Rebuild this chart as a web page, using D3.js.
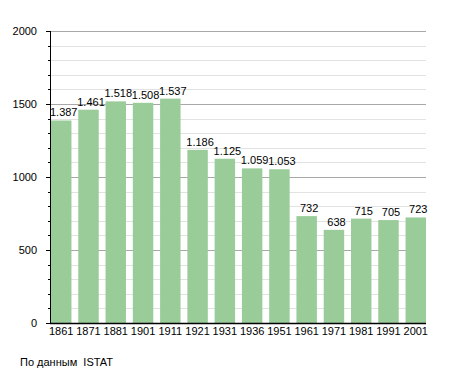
<!DOCTYPE html>
<html>
<head>
<meta charset="utf-8">
<script src="https://cdn.jsdelivr.net/npm/d3@7"></script>
<style>
  body { margin: 0; background: #fff; }
  svg text { font-family: "Liberation Sans", Arial, sans-serif; fill: #000; white-space: pre; }
</style>
</head>
<body>
<div id="chart"></div>
<script>
// census years and population
const years = ["1861", "1871", "1881", "1901", "1911", "1921", "1931", "1936", "1951", "1961", "1971", "1981", "1991", "2001"];
const population = [1387, 1461, 1518, 1508, 1537, 1186, 1125, 1059, 1053, 732, 638, 715, 705, 723];
const majorTicks = [0, 500, 1000, 1500, 2000];
const sourceNote = "По данным  ISTAT";

const width = 455, height = 373;
const plot = { left: 50, right: 426, top: 31, bottom: 323 };

const svg = d3.select("#chart").append("svg")
    .attr("width", width)
    .attr("height", height);

const y = d3.scaleLinear().domain([0, 2000]).range([plot.bottom, plot.top]);
const x = d3.scaleBand().domain(years).range([plot.left + 1, plot.right]).paddingInner(0.25).paddingOuter(0);
const yPx = d => Math.round(y(d)) + 0.5;

// minor grid every 100
const minor = d3.range(100, 2001, 100).filter(v => v % 500 !== 0);
svg.append("g").selectAll("line")
    .data(minor)
    .enter().append("line")
    .attr("x1", plot.left).attr("x2", plot.right)
    .attr("y1", yPx).attr("y2", yPx)
    .attr("stroke", "#e2e2e2");

// major grid
svg.append("g").selectAll("line")
    .data(majorTicks.filter(d => d > 0))
    .enter().append("line")
    .attr("x1", plot.left).attr("x2", plot.right)
    .attr("y1", yPx).attr("y2", yPx)
    .attr("stroke", "#a8a8a8");

// bars
svg.append("g").selectAll("rect")
    .data(population)
    .enter().append("rect")
    .attr("x", (d, i) => x(years[i]))
    .attr("y", d => y(d))
    .attr("width", x.bandwidth())
    .attr("height", d => y(0) - y(d))
    .attr("fill", "#99cc99");

// value labels
const fmt = v => d3.format(",")(v).replace(",", ".");
svg.append("g").selectAll("text")
    .data(population)
    .enter().append("text")
    .attr("x", (d, i) => x(years[i]) + x.bandwidth() / 2 + 2.5)
    .attr("y", d => y(d) - 4)
    .attr("text-anchor", "middle")
    .style("font-size", "11px")
    .text(d => fmt(d));

// y axis: minor + major ticks
svg.append("g").selectAll("line")
    .data(minor)
    .enter().append("line")
    .attr("x1", plot.left - 2).attr("x2", plot.left)
    .attr("y1", yPx).attr("y2", yPx)
    .attr("stroke", "#000");

svg.append("g").selectAll("line")
    .data(majorTicks)
    .enter().append("line")
    .attr("x1", plot.left - 4).attr("x2", plot.left)
    .attr("y1", yPx).attr("y2", yPx)
    .attr("stroke", "#000");

svg.append("g").selectAll("text")
    .data(majorTicks)
    .enter().append("text")
    .attr("x", 37)
    .attr("y", d => y(d) + 4)
    .attr("text-anchor", "end")
    .style("font-size", "11px")
    .text(d => d);

// axis lines
svg.append("line")
    .attr("x1", plot.left + 0.5).attr("x2", plot.left + 0.5)
    .attr("y1", plot.top).attr("y2", plot.bottom + 1)
    .attr("stroke", "#000");
svg.append("line")
    .attr("x1", plot.left).attr("x2", plot.right)
    .attr("y1", plot.bottom + 0.5).attr("y2", plot.bottom + 0.5)
    .attr("stroke", "#000")
    .attr("stroke-width", 1.5);

// x labels
svg.append("g").selectAll("text")
    .data(years)
    .enter().append("text")
    .attr("x", d => x(d) + x.bandwidth() / 2)
    .attr("y", 335)
    .attr("text-anchor", "middle")
    .style("font-size", "11px")
    .text(d => d);

svg.append("text")
    .attr("x", 20)
    .attr("y", 366)
    .style("font-size", "11px")
    .text(sourceNote);
</script>
</body>
</html>
